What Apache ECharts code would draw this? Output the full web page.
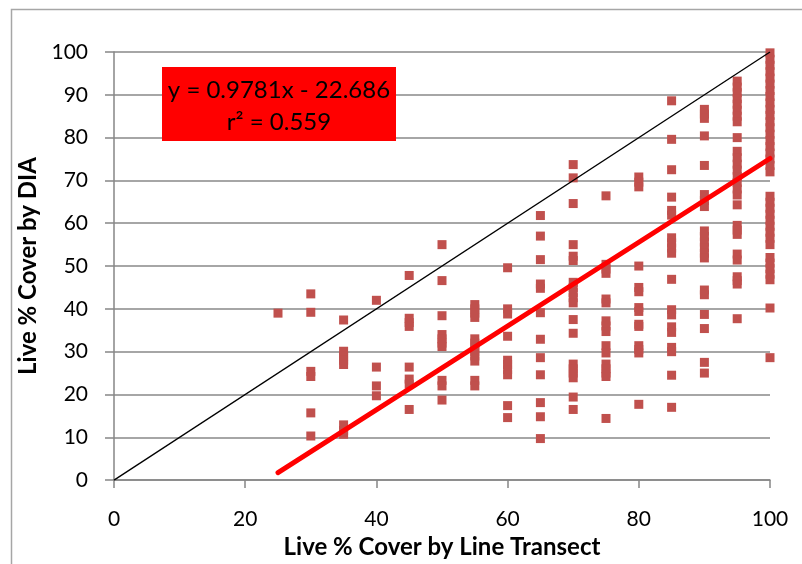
<!DOCTYPE html>
<html>
<head>
<meta charset="utf-8">
<script src="https://cdn.jsdelivr.net/npm/echarts@6/dist/echarts.min.js"></script>
<style>
  html, body { margin: 0; padding: 0; background: #fff; }
  #chart { width: 802px; height: 564px; }
</style>
</head>
<body>
<div id="chart"></div>
<script>
// line transect classes (x) and the DIA readings found at each class (y)
var transectCover = [25, 30, 35, 40, 45, 50, 55, 60, 65, 70, 75, 80, 85, 90, 95, 100];
var diaCover = [
    [39],
    [43.5, 39.2, 25.4, 24.2, 15.7, 10.3],
    [37.4, 30.1, 29, 28, 27, 12.9, 11.6, 10.7],
    [42, 26.4, 22, 19.7],
    [47.8, 37.8, 36.8, 35.9, 26.4, 23.6, 22.4, 16.5],
    [55, 46.6, 38.4, 34, 33, 32, 31.2, 23.3, 22, 18.7],
    [41, 40, 39, 38, 33, 32, 31, 30, 29, 27.8, 23.3, 22],
    [49.6, 40, 38.8, 33.6, 28, 27, 25.8, 24.6, 17.4, 14.6],
    [61.8, 57, 51.5, 45.8, 44.8, 39.1, 32.9, 28.6, 24.6, 18.1, 14.8, 9.7],
    [73.7, 70.6, 64.6, 55, 52.3, 51.3, 46.2, 45, 43.8, 42.6, 41.4, 37.5, 34.3, 27.1, 26, 25, 23.9, 19.4, 16.5],
    [66.4, 50.4, 49.3, 48.3, 42.3, 41.4, 37.2, 36, 34.7, 31.4, 29.7, 27.1, 26, 25, 24.2, 14.4],
    [70.8, 69.6, 68.5, 50, 45, 44, 40.3, 39.4, 36.4, 35.9, 31.4, 30.5, 29.7, 17.7],
    [88.6, 79.6, 72.5, 66.1, 63, 61.9, 56.6, 55.4, 54.2, 53, 46.9, 39.8, 38.6, 35.8, 34.5, 31, 30, 24.5, 17],
    [86.6, 85.5, 84.5, 80.4, 73.5, 66.7, 65.3, 63.9, 58.2, 56.9, 55.6, 54.3, 53, 51.9, 44.4, 43.3, 38.7, 35.4, 27.5, 25],
    [93.2, 91.8, 90.5, 89.1, 87.8, 86.4, 85, 83.7, 80, 76.8, 75.3, 73.8, 72.4, 70.9, 69.5, 68, 66.6, 64.3, 59.5, 58.4, 57.4, 52.8, 51.4, 47.5, 46.6, 45.8, 37.7],
    [99.8, 98.3, 96.9, 95.4, 93.9, 92.5, 91, 89.6, 88.1, 86.6, 85.2, 83.7, 82.3, 80.8, 79.3, 77.9, 76.4, 75, 73.5, 72,
     66.3, 64.9, 63.5, 62.1, 60.7, 59.3, 57.9, 56.5, 55, 52, 50.7, 49.4, 48.1, 46.8, 40.2, 28.6]
];

// fitted trend shown in the label
var slope = 0.9781;
var intercept = -22.686;
var rSquared = 0.559;

var points = [];
for (var i = 0; i < transectCover.length; i++) {
    for (var j = 0; j < diaCover[i].length; j++) {
        points.push([transectCover[i], diaCover[i][j]]);
    }
}

var fitStart = transectCover[0], fitEnd = transectCover[transectCover.length - 1];
var fitLine = [[fitStart, slope * fitStart + intercept], [fitEnd, slope * fitEnd + intercept]];
var oneToOne = [[0, 0], [100, 100]];

var font = 'Lato';
var chart = echarts.init(document.getElementById('chart'));

chart.setOption({
    animation: false,
    backgroundColor: '#fff',
    grid: { left: 114, right: 32, top: 52, bottom: 83 },
    xAxis: {
        type: 'value',
        min: 0, max: 100, interval: 20,
        name: 'Live % Cover by Line Transect',
        nameLocation: 'middle',
        nameGap: 54,
        nameTextStyle: { fontFamily: font, fontWeight: 'bold', fontSize: 24, color: '#000' },
        axisLine: { lineStyle: { color: '#868686', width: 1.5 } },
        axisTick: { show: true, length: 8, lineStyle: { color: '#868686', width: 1.5 } },
        axisLabel: { fontFamily: font, fontSize: 21, color: '#000', margin: 29 },
        splitLine: { show: false }
    },
    yAxis: {
        type: 'value',
        min: 0, max: 100, interval: 10,
        name: 'Live % Cover by DIA',
        nameLocation: 'middle',
        nameGap: 68,
        nameTextStyle: { fontFamily: font, fontWeight: 'bold', fontSize: 24, color: '#000' },
        axisLine: { show: true, lineStyle: { color: '#868686', width: 1.5 } },
        axisTick: { show: true, length: 9, lineStyle: { color: '#868686', width: 1.5 } },
        axisLabel: { fontFamily: font, fontSize: 21, color: '#000', margin: 26 },
        splitLine: { show: true, lineStyle: { color: '#888', width: 1.5 } }
    },
    graphic: [
        {
            type: 'rect',
            left: 9, top: 7,
            shape: { width: 800, height: 570 },
            style: { fill: 'none', stroke: '#a6a6a6', lineWidth: 1.5 },
            silent: true
        },
        {
            type: 'rect',
            shape: { x: 162, y: 67, width: 234, height: 74 },
            style: { fill: '#ff0000' },
            z: 10
        },
        {
            type: 'text',
            style: {
                x: 279, y: 90,
                text: 'y = ' + slope + 'x - ' + Math.abs(intercept),
                textAlign: 'center', textVerticalAlign: 'middle',
                fontFamily: font, fontSize: 24,
                fill: '#000'
            },
            z: 11
        },
        {
            type: 'text',
            style: {
                x: 279, y: 122,
                text: 'r² = ' + rSquared,
                textAlign: 'center', textVerticalAlign: 'middle',
                fontFamily: font, fontSize: 24,
                fill: '#000'
            },
            z: 11
        }
    ],
    series: [
        {
            type: 'scatter',
            symbol: 'rect',
            symbolSize: 9,
            itemStyle: { color: '#c0504d', opacity: 1 },
            data: points
        },
        {
            type: 'line',
            data: oneToOne,
            symbol: 'none',
            lineStyle: { color: '#000', width: 1.3 },
            z: 3
        },
        {
            type: 'line',
            data: fitLine,
            symbol: 'none',
            lineStyle: { color: '#ff0000', width: 5, cap: 'round' },
            z: 4
        }
    ]
});
</script>
</body>
</html>
